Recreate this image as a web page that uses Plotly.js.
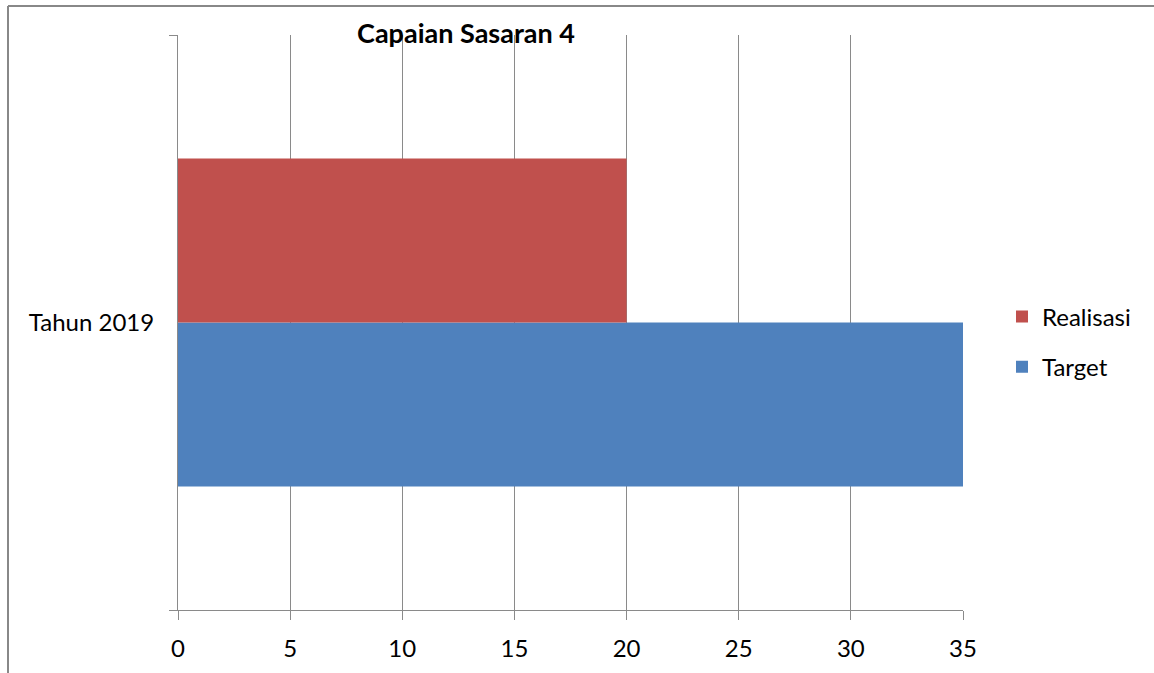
<!DOCTYPE html>
<html>
<head>
<meta charset="utf-8">
<script src="https://cdn.plot.ly/plotly-3.0.1.min.js"></script>
<style>
  html, body { margin: 0; padding: 0; background: #ffffff; }
  #chart { width: 1154px; height: 673px; }
</style>
</head>
<body>
<div id="chart"></div>
<script>
const categories = ["Tahun 2019"];
const targetValues = [35];
const realisasiValues = [20];
const seriesNames = ["Target", "Realisasi"];
const seriesColors = ["#4F81BD", "#C0504D"];
const xTickValues = [0, 5, 10, 15, 20, 25, 30, 35];
const chartTitle = "Capaian Sasaran 4";

const FONT = "Lato, 'Open Sans', sans-serif";
const gridColor = "#8a8a8a";

const traces = [
  {
    type: "bar", orientation: "h", name: seriesNames[0],
    y: categories, x: targetValues,
    marker: { color: seriesColors[0] }, legendgroup: "g1", legendrank: 2,
    hoverinfo: "x+name"
  },
  {
    type: "bar", orientation: "h", name: seriesNames[1],
    y: categories, x: realisasiValues,
    marker: { color: seriesColors[1] }, legendgroup: "g2", legendrank: 1,
    hoverinfo: "x+name"
  }
];

const plotW = 785, plotH = 575, ml = 178, mt = 35;
const frameX = (8 - ml) / plotW;
const frameY = 1 + (mt - 6) / plotH;

const layout = {
  width: 1154, height: 673,
  margin: { l: ml, r: 1154 - 963, t: mt, b: 673 - 610, pad: 0 },
  paper_bgcolor: "#ffffff", plot_bgcolor: "#ffffff",
  font: { family: FONT, size: 24, color: "#000000" },
  barmode: "group", bargap: 0.43, bargroupgap: 0,
  title: {
    text: "<b>" + chartTitle + "</b>",
    font: { family: FONT, size: 27, color: "#000000" },
    xref: "paper", x: (466 - ml) / plotW, xanchor: "center",
    yref: "container", y: 1 - 34 / 673, yanchor: "middle"
  },
  xaxis: {
    range: [0, 35], tickvals: xTickValues, ticktext: xTickValues.map(String),
    showgrid: true, gridcolor: gridColor, gridwidth: 1,
    zeroline: false, showline: true, linecolor: gridColor, linewidth: 1,
    ticks: "outside", ticklen: 9, tickcolor: gridColor, tickwidth: 1,
    tickfont: { family: FONT, size: 24, color: "#000000" },
    ticklabelstandoff: 8,
    fixedrange: true
  },
  yaxis: {
    type: "category", tickson: "boundaries",
    showgrid: false, zeroline: false, showline: true, linecolor: gridColor, linewidth: 1,
    ticks: "outside", ticklen: 8, tickcolor: gridColor, tickwidth: 1,
    tickfont: { family: FONT, size: 24, color: "#000000" },
    ticklabelstandoff: 18,
    fixedrange: true
  },
  legend: {
    x: (1002 - ml) / plotW, xanchor: "left",
    y: 1 - (342 - mt) / plotH, yanchor: "middle",
    traceorder: "grouped", tracegroupgap: 16,
    font: { family: FONT, size: 24, color: "#000000" },
    itemwidth: 30, bgcolor: "rgba(0,0,0,0)"
  },
  shapes: [
    { type: "line", xref: "paper", yref: "paper", x0: frameX, x1: frameX, y0: -0.2, y1: frameY,
      line: { color: "#888888", width: 2 } },
    { type: "line", xref: "paper", yref: "paper", x0: frameX, x1: 1.5, y0: frameY, y1: frameY,
      line: { color: "#888888", width: 2 } }
  ],
  showlegend: true
};

Plotly.newPlot("chart", traces, layout, { displayModeBar: false, staticPlot: true });
</script>
</body>
</html>
